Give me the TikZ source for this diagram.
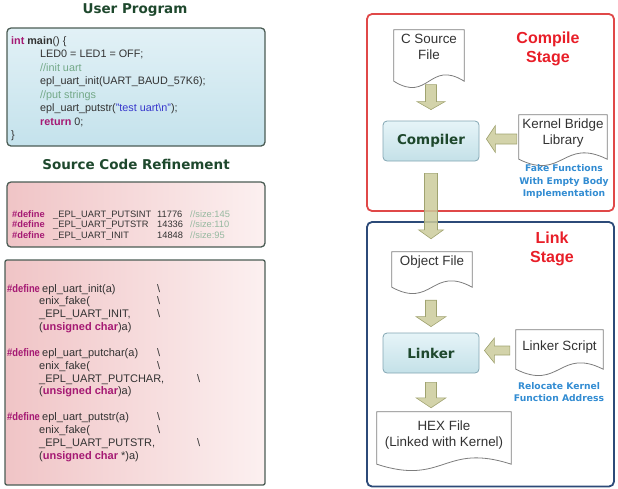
\documentclass[tikz,border=0pt]{standalone}
\usepackage{fontspec}
\usepackage{graphicx}
\setmainfont{Liberation Sans}
\newfontfamily\dejavu{DejaVu Sans}
\usetikzlibrary{calc}
\definecolor{titlegreen}{RGB}{30,72,45}
\definecolor{codegray}{RGB}{50,50,50}
\definecolor{kw}{RGB}{165,25,115}
\definecolor{cmt}{RGB}{115,168,135}
\definecolor{cmttwo}{RGB}{150,185,160}
\definecolor{strblue}{RGB}{55,55,205}
\definecolor{boxedge}{RGB}{75,92,84}
\definecolor{bluefillA}{RGB}{226,241,246}
\definecolor{bluefillB}{RGB}{196,226,236}
\definecolor{pinkA}{RGB}{240,196,198}
\definecolor{pinkB}{RGB}{252,240,240}
\definecolor{stagered}{RGB}{224,72,72}
\definecolor{stageblue}{RGB}{44,74,120}
\definecolor{labelred}{RGB}{232,30,40}
\definecolor{noteblue}{RGB}{50,140,210}
\definecolor{arrowfill}{RGB}{203,203,155}
\definecolor{arrowedge}{RGB}{160,163,112}
\definecolor{docedge}{RGB}{125,125,125}
\definecolor{procedge}{RGB}{130,165,178}
\definecolor{procfillA}{RGB}{230,244,248}
\definecolor{procfillB}{RGB}{196,225,232}
\newcommand\kwb[1]{\textcolor{kw}{\bfseries #1}}
\newcommand\mdef{\makebox[35pt][l]{\scalebox{0.85}[1]{\kwb{\#define}}}}
% vertical block arrow: #1 start, #2 tip, #3 half shaft, #4 half head, #5 head length
\newcommand\downblock[5]{\filldraw[blockarrow] ($(#1)+(-#3,0)$) -- ($(#2)+(-#3,-#5)$) -- ($(#2)+(-#4,-#5)$) -- (#2) -- ($(#2)+(#4,-#5)$) -- ($(#2)+(#3,-#5)$) -- ($(#1)+(#3,0)$) -- cycle;}
% leftward block arrow: #1 start (right), #2 tip (left)
\newcommand\leftblock[5]{\filldraw[blockarrow] ($(#1)+(0,-#3)$) -- ($(#2)+(#5,-#3)$) -- ($(#2)+(#5,-#4)$) -- (#2) -- ($(#2)+(#5,#4)$) -- ($(#2)+(#5,#3)$) -- ($(#1)+(0,#3)$) -- cycle;}
% document outline around node #1, wavy base #2 below node south
\newcommand\docoutline[2]{\draw[docline] (#1.north west) -- (#1.north east) -- ($(#1.south east)+(0,#2)$) .. controls ($(#1.south)+(0,#2-22)$) and ($(#1.south)+(0,#2+22)$) .. ($(#1.south west)+(0,#2)$) -- cycle;}
\tikzset{
  every node/.style={inner sep=0pt},
  code/.style={anchor=base west, text=codegray, font=\fontsize{10.8}{13}\selectfont},
  codesm/.style={anchor=base west, text=codegray, font=\fontsize{9.3}{11}\selectfont},
  codemac/.style={anchor=base west, text=codegray, font=\fontsize{11}{12}\selectfont},
  sectitle/.style={font=\dejavu\bfseries\fontsize{13.5}{16}\selectfont, text=titlegreen},
  userbox/.style={draw=boxedge, line width=1.3pt, rounded corners=4pt, top color=bluefillA, bottom color=bluefillB},
  pinkbox/.style={draw=boxedge, line width=1.3pt, rounded corners=4pt, left color=pinkA, right color=pinkB},
  stagebox/.style={line width=1.8pt, rounded corners=5pt},
  stagelabel/.style={font=\bfseries\fontsize{16}{19}\selectfont, text=labelred, align=center},
  note/.style={font=\dejavu\bfseries\fontsize{9.2}{12.5}\selectfont, text=noteblue, align=center},
  process/.style={draw=procedge, line width=0.8pt, rounded corners=4pt, top color=procfillA, bottom color=procfillB, minimum width=96pt, minimum height=40pt, font=\dejavu\bfseries\fontsize{13.5}{16}\selectfont, text=titlegreen},
  doc/.style={align=center, text=codegray, font=\fontsize{13.4}{16}\selectfont},
  docline/.style={draw=docedge, line width=0.8pt},
  blockarrow/.style={draw=arrowedge, fill=arrowfill, line width=0.6pt, fill opacity=0.85, line join=miter},
}
\begin{document}
\begin{tikzpicture}[x=1pt, y=-1pt]
\useasboundingbox (0,0) rectangle (618,488);
% ---------------- left column ----------------
\node[sectitle] (t1) at (135,10) {User Program};
\draw[userbox] (7,28) rectangle (265,146);
\node[code] (u1) at (11,44) {\kwb{int} \textbf{main}() \{};
\node[code] (u2) at (40,57.5) {LED0 = LED1 = OFF;};
\node[code] (u3) at (40,71) {\textcolor{cmt}{//init uart}};
\node[code] (u4) at (40,84.5) {epl\_uart\_init(UART\_BAUD\_57K6);};
\node[code] (u5) at (40,98) {\textcolor{cmt}{//put strings}};
\node[code] (u6) at (40,111.5) {epl\_uart\_putstr(\textcolor{strblue}{"test uart\textbackslash n"});};
\node[code] (u7) at (40,125) {\kwb{return} 0;};
\node[code] (u8) at (11,138.5) {\}};

\node[sectitle] (t2) at (136,164) {Source Code Refinement};
\draw[pinkbox] (7,182) rectangle (265,247);
\node[codesm] (d1) at (12,217) {\makebox[41pt][l]{\kwb{\#define}}\makebox[104pt][l]{\_EPL\_UART\_PUTSINT}\makebox[33pt][l]{11776}\textcolor{cmttwo}{//size:145}};
\node[codesm] (d2) at (12,227.5) {\makebox[41pt][l]{\kwb{\#define}}\makebox[104pt][l]{\_EPL\_UART\_PUTSTR}\makebox[33pt][l]{14336}\textcolor{cmttwo}{//size:110}};
\node[codesm] (d3) at (12,238) {\makebox[41pt][l]{\kwb{\#define}}\makebox[104pt][l]{\_EPL\_UART\_INIT}\makebox[33pt][l]{14848}\textcolor{cmttwo}{//size:95}};

\draw[pinkbox, rounded corners=2pt] (5,260) rectangle (265,485);
\node[codemac] (m1) at (7,292) {\makebox[150pt][l]{\mdef epl\_uart\_init(a)}\textbackslash};
\node[codemac] (m2) at (39,304.8) {\makebox[118pt][l]{enix\_fake(}\textbackslash};
\node[codemac] (m3) at (39,317.6) {\makebox[118pt][l]{\_EPL\_UART\_INIT,}\textbackslash};
\node[codemac] (m4) at (39,330.4) {(\kwb{unsigned char})a)};
\node[codemac] (m5) at (7,356.4) {\makebox[150pt][l]{\mdef epl\_uart\_putchar(a)}\textbackslash};
\node[codemac] (m6) at (39,369.2) {\makebox[118pt][l]{enix\_fake(}\textbackslash};
\node[codemac] (m7) at (39,382) {\makebox[158pt][l]{\_EPL\_UART\_PUTCHAR,}\textbackslash};
\node[codemac] (m8) at (39,394.8) {(\kwb{unsigned char})a)};
\node[codemac] (m9) at (7,420.8) {\makebox[150pt][l]{\mdef epl\_uart\_putstr(a)}\textbackslash};
\node[codemac] (m10) at (39,433.6) {\makebox[118pt][l]{enix\_fake(}\textbackslash};
\node[codemac] (m11) at (39,446.4) {\makebox[158pt][l]{\_EPL\_UART\_PUTSTR,}\textbackslash};
\node[codemac] (m12) at (39,459.2) {(\kwb{unsigned char} *)a)};

% ---------------- right column ----------------
\draw[stagebox, draw=stagered] (367,14) rectangle (614,211);
\draw[stagebox, draw=stageblue] (367,222) rectangle (614,486.5);
\node[stagelabel] (cst) at (548,48.5) {Compile\\Stage};
\node[stagelabel] (lst) at (552,248.5) {Link\\Stage};

\node[doc, minimum width=70pt, minimum height=34pt] (csf) at (429,47) {C Source\\File};
\docoutline{csf}{17}
\node[process] (comp) at (431,141) {Compiler};
\node[doc, minimum width=88pt, minimum height=36pt] (kbl) at (563,133) {Kernel Bridge\\Library};
\docoutline{kbl}{8}
\node[note] (fake) at (564,181.5) {Fake Functions\\With Empty Body\\Implementation};

\node[doc, minimum width=80pt, minimum height=20pt] (obj) at (432,262) {Object File};
\docoutline{obj}{15}
\node[process] (lnk) at (431,353) {Linker};
\node[doc, minimum width=87pt, minimum height=34pt] (lks) at (559.5,347) {Linker Script};
\docoutline{lks}{5}
\node[note] (reloc) at (559,392) {Relocate Kernel\\Function Address};
\node[doc, minimum width=134pt, minimum height=46pt] (hex) at (444,435) {HEX File\\(Linked with Kernel)};
\docoutline{hex}{6}

% block arrows
\coordinate (a1s) at ($(comp.north)+(0,-36)$);
\coordinate (a1e) at ($(comp.north)+(0,-11)$);
\downblock{a1s}{a1e}{5.5}{14}{8}
\coordinate (a2s) at ($(kbl.west |- comp.center)+(-2,-2)$);
\coordinate (a2e) at ($(comp.east)+(7,-2)$);
\leftblock{a2s}{a2e}{5}{13.5}{9}
\coordinate (a3s) at ($(comp.south)+(0,12)$);
\coordinate (a3e) at ($(comp.south |- obj.north)+(0,-13)$);
\downblock{a3s}{a3e}{6.5}{12.5}{9}
\coordinate (a4s) at ($(lnk.north |- obj.south)+(0,28)$);
\coordinate (a4e) at ($(lnk.north)+(0,-6)$);
\downblock{a4s}{a4e}{5.5}{15}{10}
\coordinate (a5s) at ($(lks.west |- lnk.center)+(-6,-2.5)$);
\coordinate (a5e) at ($(lnk.east)+(5,-2.5)$);
\leftblock{a5s}{a5e}{4.5}{12.5}{10}
\coordinate (a6s) at ($(lnk.south)+(0,9)$);
\coordinate (a6e) at ($(lnk.south |- hex.north)+(0,-4)$);
\downblock{a6s}{a6e}{5.5}{15}{10}
\end{tikzpicture}
\end{document}
